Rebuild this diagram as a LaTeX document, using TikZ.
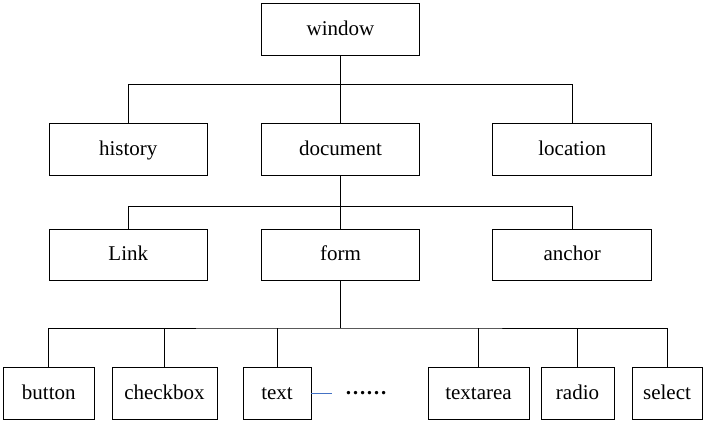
\documentclass[tikz,border=0pt]{standalone}
\usepackage{fontspec}
\setmainfont{Liberation Serif}
\newfontfamily\tnr{Liberation Serif}
\begin{document}
\begin{tikzpicture}[x=1pt,y=-1pt,
  box/.style={draw,line width=0.9pt,inner sep=0pt,minimum height=52pt,text height=15pt,text depth=3pt,font=\tnr\fontsize{21}{25}\selectfont},
  conn/.style={line width=0.9pt},
  bluelink/.style={line width=0.9pt,draw={rgb,255:red,68;green,114;blue,196}}]
\useasboundingbox[fill=white] (0,0) rectangle (706,422);
% top level
\node[box,minimum width=157.6pt] (window) at (340.5,29.2) {window};
% level 2
\node[box,minimum width=158pt] (history) at (128.3,149.2) {history};
\node[box,minimum width=157.6pt] (document) at (340.5,149.2) {document};
\node[box,minimum width=159pt] (location) at (572.2,149.2) {location};
% level 3
\node[box,minimum width=158pt,minimum height=50.7pt] (link) at (128.3,254.7) {Link};
\node[box,minimum width=157.6pt,minimum height=50.7pt] (form) at (340.5,254.7) {form};
\node[box,minimum width=159pt,minimum height=50.7pt] (anchor) at (572.2,254.7) {anchor};
% level 4
\node[box,minimum width=91pt] (button) at (48.8,393.3) {button};
\node[box,minimum width=105pt] (checkbox) at (164.5,393.3) {checkbox};
\node[box,minimum width=68pt] (text) at (277,393.3) {text};
\node[box,minimum width=101pt] (textarea) at (478.5,393.3) {textarea};
\node[box,minimum width=73pt] (radio) at (577.5,393.3) {radio};
\node[box,minimum width=70pt] (select) at (667,393.3) {select};
\node[anchor=base west,inner sep=0pt,font=\tnr\bfseries\fontsize{21}{25}\selectfont] (dots) at (345,394.8) {……};
% junctions
\coordinate (j1) at (340.5,84.3);
\coordinate (j2) at (340.5,206.7);
\coordinate (j3) at (340.5,328);
% connectors
\draw[conn] (window.south) -- (document.north);
\draw[conn] (history.north) |- (j1) -| (location.north);
\draw[conn] (document.south) -- (form.north);
\draw[conn] (link.north) |- (j2) -| (anchor.north);
\draw[conn] (form.south) -- (j3);
\draw[conn] (button.north) |- (j3) -| (select.north);
\draw[conn] (checkbox.north) -- (checkbox.north |- j3);
\draw[conn] (text.north) -- (text.north |- j3);
\draw[conn] (textarea.north) -- (textarea.north |- j3);
\draw[conn] (radio.north) -- (radio.north |- j3);
\coordinate (blueend) at ([xshift=21pt]text.east);
\draw[bluelink] (text.east) -- (blueend);
\end{tikzpicture}
\end{document}
